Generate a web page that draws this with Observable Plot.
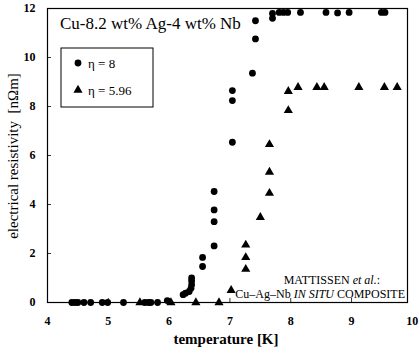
<!DOCTYPE html>
<html><head><meta charset="utf-8">
<script src="https://cdn.jsdelivr.net/npm/d3@7"></script>
<script src="https://cdn.jsdelivr.net/npm/@observablehq/plot@0.6"></script>
<style>body{margin:0;background:#fff} svg text, svg tspan{font-family:'Liberation Serif', serif !important}</style>
</head><body><div id="chart"></div>
<script>
const xTicks = [4, 5, 6, 7, 8, 9, 10];
const yTicks = [0, 2, 4, 6, 8, 10, 12];

// eta = 8 (circles)
const eta8T = [4.40,4.45,4.50,4.60,4.71,4.90,4.99,5.25,5.60,5.66,5.70,5.81,5.97,
  6.23,6.27,6.33,6.36,6.37,6.37,6.37,6.55,6.55,6.74,6.74,6.74,6.74,7.04,7.04,7.04,7.37,7.42,7.42,
  7.70,7.70,7.81,7.88,7.95,8.16,8.58,8.77,8.96,9.49,9.55];
const eta8R = [0,0,0,0,0,0,0,0,0,0,0,0,0.08,
  0.32,0.38,0.45,0.58,0.72,0.88,1.00,1.84,1.47,4.53,3.78,3.30,2.31,8.65,8.24,6.54,9.36,11.5,10.76,
  11.80,11.60,11.84,11.84,11.84,11.84,11.84,11.82,11.84,11.84,11.84];

// eta = 5.96 (triangles)
const eta596T = [5.52,6.03,6.44,6.82,7.02,7.26,7.26,7.26,7.50,7.65,7.65,7.65,7.96,7.96,8.12,8.43,8.55,9.12,9.54,9.75];
const eta596R = [0,0,0,0,0.50,1.36,1.84,2.35,3.48,4.46,5.32,6.45,7.84,8.62,8.78,8.78,8.78,8.78,8.78,8.78];

const titleText = "Cu-8.2 wt% Ag-4 wt% Nb";
const legendLabels = ["η = 8", "η = 5.96"];
const xLabel = "temperature [K]";
const yLabel = "electrical resistivity  [nΩm]";

const d8 = eta8T.map((t, i) => ({t, r: eta8R[i]}));
const d596 = eta596T.map((t, i) => ({t, r: eta596R[i]}));

const serif = "'Liberation Serif', serif";

const plot = Plot.plot({
  width: 420, height: 352,
  marginLeft: 47, marginRight: 13, marginTop: 8, marginBottom: 50,
  style: {fontFamily: serif, background: "#fff", color: "#000"},
  x: {domain: [4, 9.92]},
  y: {domain: [0, 12]},
  marks: [
    Plot.frame({stroke: "#000", strokeWidth: 1.2}),
    Plot.axisX({ticks: xTicks.filter(d => d < 10), tickSize: -4, strokeWidth: 0.8, text: null, label: null}),
    Plot.axisX({ticks: xTicks, tickSize: 0, tickPadding: 14, tickFormat: d => String(d), label: null,
      fontSize: 12, fontWeight: "bold", fontFamily: serif}),
    Plot.axisY({ticks: yTicks, tickSize: -4, strokeWidth: 0.8, text: null, label: null}),
    Plot.axisY({ticks: yTicks, tickSize: 0, tickPadding: 12, tickFormat: d => String(d), label: null,
      fontSize: 12, fontWeight: "bold", fontFamily: serif}),
    Plot.dot(d596, {x: "t", y: "r", symbol: "triangle", r: 3.4, fill: "#000", stroke: null}),
    Plot.dot(d8, {x: "t", y: "r", symbol: "circle", r: 3.4, fill: "#000", stroke: null})
  ]
});
document.getElementById("chart").appendChild(plot);

const svg = d3.select(plot).attr("font-family", serif);
const g = svg.append("g").attr("font-family", serif).attr("fill", "#000").attr("text-anchor", "start");

// title
g.append("text").attr("x", 60).attr("y", 29).attr("font-size", 17).text(titleText);

// legend
g.append("rect").attr("x", 61).attr("y", 48).attr("width", 92).attr("height", 59)
  .attr("fill", "#fff").attr("stroke", "#000").attr("stroke-width", 1);
g.append("path").attr("transform", "translate(78,63)")
  .attr("d", d3.symbol(d3.symbolCircle, Math.PI * 3.4 * 3.4)());
g.append("path").attr("transform", "translate(78,90)")
  .attr("d", d3.symbol(d3.symbolTriangle, Math.PI * 3.4 * 3.4)());
g.append("text").attr("x", 88).attr("y", 67.5).attr("font-size", 13).text(legendLabels[0]);
g.append("text").attr("x", 88).attr("y", 94.5).attr("font-size", 13).text(legendLabels[1]);

// annotation
const a1 = g.append("text").attr("x", 380).attr("y", 284).attr("font-size", 12).attr("text-anchor", "end");
a1.append("tspan").text("MATTISSEN ");
a1.append("tspan").attr("font-style", "italic").text("et al.");
a1.append("tspan").text(":");
const a2 = g.append("text").attr("x", 405).attr("y", 298).attr("font-size", 12).attr("text-anchor", "end");
a2.append("tspan").text("Cu–Ag–Nb ");
a2.append("tspan").attr("font-style", "italic").text("IN SITU");
a2.append("tspan").text(" COMPOSITE");

// axis labels
g.append("text").attr("x", 226).attr("y", 344).attr("font-size", 15).attr("font-weight", "bold")
  .attr("text-anchor", "middle").text(xLabel);
g.append("text").attr("transform", "translate(18,156) rotate(-90)").attr("font-size", 15)
  .attr("text-anchor", "middle").style("white-space", "pre").text(yLabel);
</script>
</body></html>
